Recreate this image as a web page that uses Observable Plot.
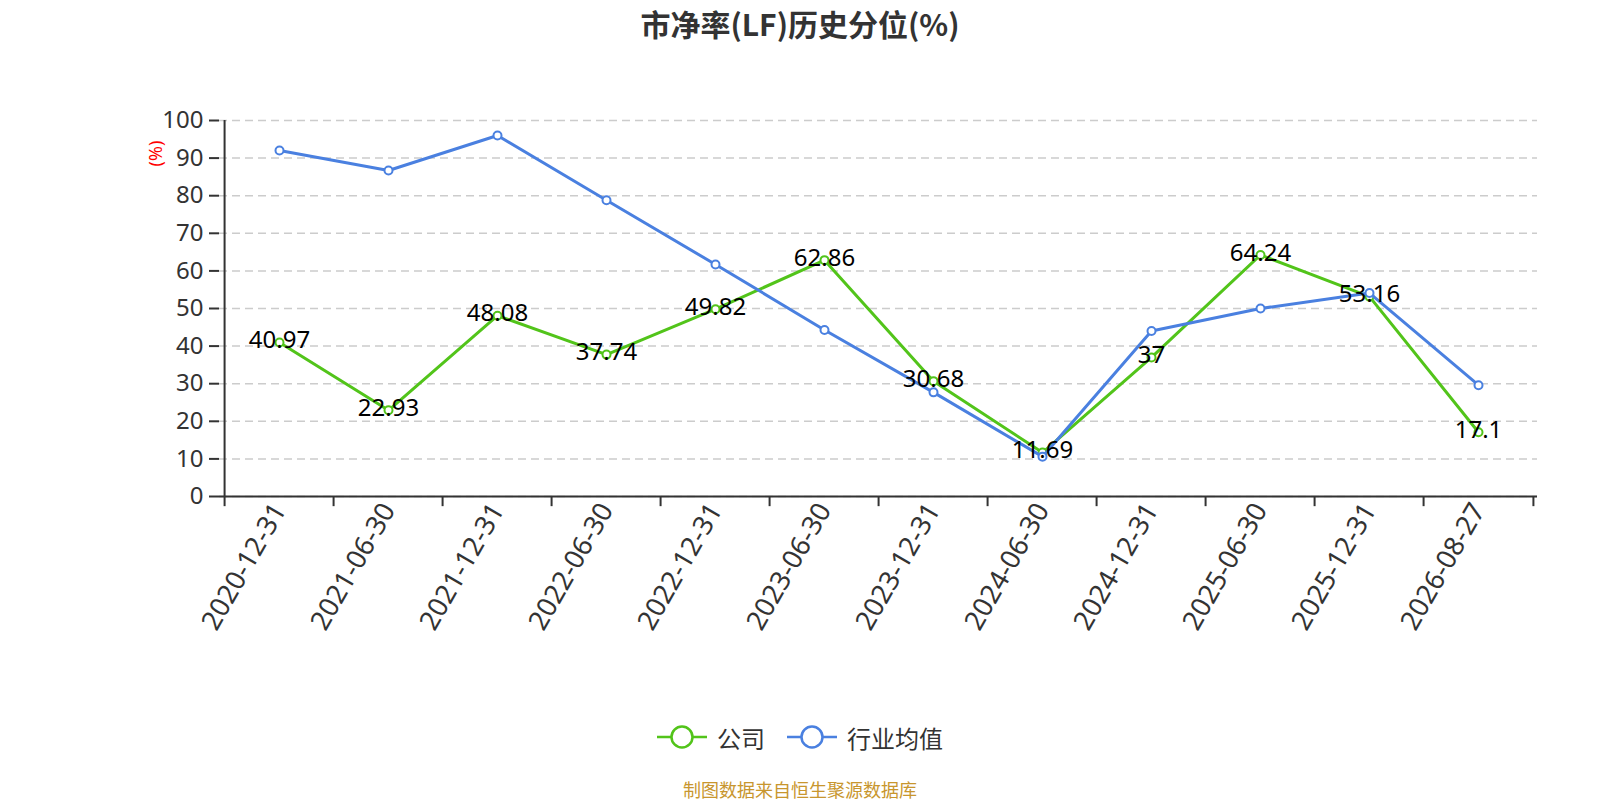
<!DOCTYPE html>
<html>
<head>
<meta charset="utf-8">
<script src="https://cdn.jsdelivr.net/npm/d3@7"></script>
<script src="https://cdn.jsdelivr.net/npm/@observablehq/plot@0.6"></script>
<style>
  html, body { margin: 0; padding: 0; background: #fff; }
  body { width: 1600px; height: 800px; position: relative; overflow: hidden;
         font-family: "Noto Sans", "Noto Sans CJK SC", sans-serif; }
  #title { position: absolute; left: 0; top: 0; width: 1600px; text-align: center;
           font-size: 30px; font-weight: bold; line-height: 46px; color: #333;
           font-family: "Noto Sans CJK SC", sans-serif; }
  #chart { position: absolute; left: 0; top: 60px; }
  #legend { position: absolute; left: 0; top: 717px; width: 1600px; height: 40px;
            display: flex; justify-content: center; align-items: center;
            font-family: "Noto Sans CJK SC", sans-serif; font-size: 24px; color: #333; }
  .item { display: flex; align-items: center; }
  .item svg { margin-right: 10px; }
  .item + .item { margin-left: 22px; }
  #caption { position: absolute; left: 0; top: 776px; width: 1600px; text-align: center;
             font-family: "Noto Sans CJK SC", sans-serif; font-size: 18px; line-height: 26px;
             color: #c8962e; }
</style>
</head>
<body>
<div id="title">市净率(LF)历史分位(%)</div>
<div id="chart"></div>
<div id="legend"></div>
<div id="caption">制图数据来自恒生聚源数据库</div>
<script>
const categories = ["2020-12-31","2021-06-30","2021-12-31","2022-06-30","2022-12-31","2023-06-30",
                    "2023-12-31","2024-06-30","2024-12-31","2025-06-30","2025-12-31","2026-08-27"];
const companyValues = [40.97, 22.93, 48.08, 37.74, 49.82, 62.86, 30.68, 11.69, 37, 64.24, 53.16, 17.1];
const industryValues = [92.0, 86.7, 96.0, 78.8, 61.7, 44.3, 27.7, 10.6, 44.0, 50.0, 54.1, 29.6];
const yTicks = [0, 10, 20, 30, 40, 50, 60, 70, 80, 90, 100];
const seriesNames = ["公司", "行业均值"];
const colors = ["#52c41a", "#4a80e0"];

const TOP = 60;
const W = 1600, H = 600, ML = 219, MR = 63, MT = 60, MB = 164;
const step = (W - ML - MR) / categories.length;

const company = categories.map((c, i) => ({cat: c, v: companyValues[i]}));
const industry = categories.map((c, i) => ({cat: c, v: industryValues[i]}));

const plot = Plot.plot({
  width: W, height: H,
  marginLeft: ML, marginRight: MR, marginTop: MT, marginBottom: MB,
  style: {fontFamily: "'Noto Sans', 'Noto Sans CJK SC', sans-serif", background: "#fff"},
  x: {type: "point", domain: categories, padding: 0.5},
  y: {domain: [0, 100]},
  marks: [
    Plot.gridY(yTicks, {stroke: "#cccccc", strokeOpacity: 1, strokeWidth: 1.5, strokeDasharray: "8,5"}),
    Plot.ruleY([0], {stroke: "#333", strokeWidth: 2}),
    Plot.ruleX([categories[0]], {dx: -step / 2, y1: 0, y2: 100, stroke: "#333", strokeWidth: 2}),
    Plot.ruleX(categories, {dx: -step / 2, y1: 0, y2: -2.7, stroke: "#333", strokeWidth: 2}),
    Plot.ruleX([categories[categories.length - 1]], {dx: step / 2, y1: 0, y2: -2.7, stroke: "#333", strokeWidth: 2}),
    Plot.axisY(yTicks, {tickSize: 10, tickPadding: 6, fontSize: 24, color: "#333", stroke: "#333", strokeWidth: 2, label: null}),
    Plot.axisX({tickSize: 0, tickPadding: 9, tickRotate: -60, fontSize: 27, color: "#333", label: null}),
    Plot.text(["(%)"], {frameAnchor: "top-left", textAnchor: "middle", lineAnchor: "middle",
                        dx: 156 - ML, dy: 153 - TOP - MT, rotate: -90, fill: "red", fontSize: 18}),
    Plot.line(company, {x: "cat", y: "v", stroke: colors[0], strokeWidth: 3}),
    Plot.dot(company, {x: "cat", y: "v", r: 4, fill: "#fff", stroke: colors[0], strokeWidth: 2}),
    Plot.line(industry, {x: "cat", y: "v", stroke: colors[1], strokeWidth: 3}),
    Plot.dot(industry, {x: "cat", y: "v", r: 4, fill: "#fff", stroke: colors[1], strokeWidth: 2}),
    Plot.text(company, {x: "cat", y: "v", text: d => String(d.v), dy: -2, fill: "#000", fontSize: 24})
  ]
});
document.getElementById("chart").appendChild(plot);

const legend = document.getElementById("legend");
seriesNames.forEach((name, i) => {
  const item = document.createElement("div");
  item.className = "item";
  item.innerHTML = `<svg width="50" height="26" viewBox="0 0 50 26">
      <line x1="0" y1="13" x2="50" y2="13" stroke="${colors[i]}" stroke-width="2.5"></line>
      <circle cx="25" cy="13" r="10.5" fill="#fff" stroke="${colors[i]}" stroke-width="2.5"></circle>
    </svg><span>${name}</span>`;
  legend.appendChild(item);
});
</script>
</body>
</html>
